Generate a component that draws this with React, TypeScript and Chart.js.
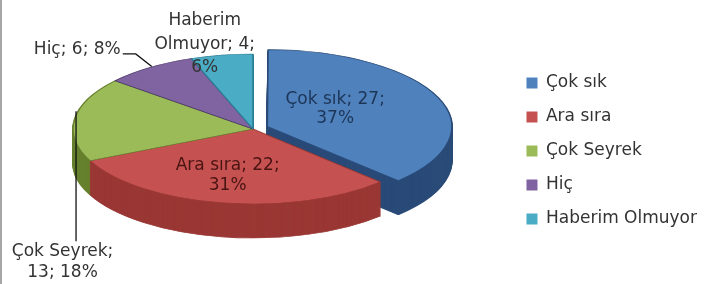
import React, { useEffect, useRef } from "react";
import { Chart, registerables } from "chart.js";

Chart.register(...registerables);

// ---- data ----
const categories = ["Çok sık", "Ara sıra", "Çok Seyrek", "Hiç", "Haberim Olmuyor"];
const counts = [27, 22, 13, 6, 4];
const percents = ["37%", "31%", "18%", "8%", "6%"];

// ---- styles ----
const topColors = ["#4f81bd", "#c55250", "#9bbb59", "#8064a2", "#4bacc6"];
const sideColors = ["#2a4b78", "#9a3835", "#66802e", "#4f3c6b", "#2c7f96"];
const labelInk = ["#1d3557", "#4a1413", "#333333", "#333333", "#333333"];

const W = 707;
const H = 284;
const ELL = { cx: 253, cy: 129, rx: 180, ry: 75, depth: 34 };
const FONT = '"DejaVu Sans", sans-serif';
const LABEL_SIZE = 17;

type Spec = {
  kind: "inside" | "down" | "left" | "above";
  r: number;
  dx: number;
  dy: number;
  lh: number;
  wrap: "A" | "B" | "C" | "D";
};
const labelSpecs: Spec[] = [
  { kind: "inside", r: 0.42, dx: -2, dy: -5, lh: 19, wrap: "A" },
  { kind: "inside", r: 0.65, dx: -5, dy: -1, lh: 20, wrap: "A" },
  { kind: "down", r: 1, dx: -12, dy: 132, lh: 21, wrap: "B" },
  { kind: "left", r: 1, dx: -29, dy: -18, lh: 20, wrap: "C" },
  { kind: "above", r: 1, dx: -17, dy: -11, lh: 23.5, wrap: "D" },
];

function buildLines(i: number, wrap: string): string[] {
  const c = categories[i];
  const v = counts[i];
  const p = percents[i];
  if (wrap === "A") return [`${c}; ${v};`, p];
  if (wrap === "B") return [`${c};`, `${v}; ${p}`];
  if (wrap === "C") return [`${c}; ${v}; ${p}`];
  const words = c.split(" ");
  return [words[0], `${words.slice(1).join(" ")}; ${v};`, p];
}

function ellipseMap(chart: any) {
  const arc = chart.getDatasetMeta(0).data[0];
  const R = arc.outerRadius;
  return { x0: arc.x, y0: arc.y, R, sx: ELL.rx / R, sy: ELL.ry / R };
}

function applyEllipse(ctx: CanvasRenderingContext2D, m: any) {
  ctx.translate(ELL.cx, ELL.cy);
  ctx.scale(m.sx, m.sy);
  ctx.translate(-m.x0, -m.y0);
}

function toScreen(m: any, arc: any, angle: number, r: number) {
  const half = (arc.startAngle + arc.endAngle) / 2;
  const off = (arc.options.offset || 0) / 4;
  const px = arc.x + Math.cos(half) * off + Math.cos(angle) * r;
  const py = arc.y + Math.sin(half) * off + Math.sin(angle) * r;
  return { x: ELL.cx + (px - m.x0) * m.sx, y: ELL.cy + (py - m.y0) * m.sy };
}

const pie3d = {
  id: "pie3d",
  beforeDatasetsDraw(chart: any) {
    const ctx: CanvasRenderingContext2D = chart.ctx;
    const m = ellipseMap(chart);
    const arcs = chart.getDatasetMeta(0).data;
    for (let d = ELL.depth; d >= 1; d--) {
      ctx.save();
      ctx.translate(0, d);
      applyEllipse(ctx, m);
      arcs.forEach((arc: any, i: number) => {
        const orig = arc.options;
        arc.options = { ...orig, backgroundColor: sideColors[i], borderColor: sideColors[i] };
        arc.draw(ctx);
        arc.options = orig;
      });
      ctx.restore();
    }
    ctx.save();
    applyEllipse(ctx, m);
  },
  afterDatasetsDraw(chart: any) {
    chart.ctx.restore();
  },
};

const sliceLabels = {
  id: "sliceLabels",
  afterDraw(chart: any) {
    const ctx: CanvasRenderingContext2D = chart.ctx;
    const m = ellipseMap(chart);
    const arcs = chart.getDatasetMeta(0).data;
    ctx.save();
    ctx.font = `${LABEL_SIZE}px ${FONT}`;
    ctx.textBaseline = "middle";
    arcs.forEach((arc: any, i: number) => {
      const spec = labelSpecs[i];
      const mid = (arc.startAngle + arc.endAngle) / 2;
      const a = toScreen(m, arc, mid, arc.outerRadius * spec.r);
      const lines = buildLines(i, spec.wrap);
      ctx.fillStyle = labelInk[i];
      ctx.strokeStyle = "#111";
      ctx.lineWidth = 1.3;
      if (spec.kind === "inside" || spec.kind === "above") {
        ctx.textAlign = "center";
        const cx = a.x + spec.dx;
        const cy = a.y + spec.dy;
        const top = cy - ((lines.length - 1) * spec.lh) / 2;
        lines.forEach((t, k) => ctx.fillText(t, cx, top + k * spec.lh));
      } else if (spec.kind === "down") {
        const lx = a.x + 1.5;
        ctx.beginPath();
        ctx.moveTo(lx, a.y - 8);
        ctx.lineTo(lx, a.y + 122);
        ctx.stroke();
        ctx.textAlign = "center";
        lines.forEach((t, k) => ctx.fillText(t, a.x + spec.dx, a.y + spec.dy + k * spec.lh));
      } else {
        const ex = a.x - 14;
        const ey = a.y - 13.6;
        ctx.beginPath();
        ctx.moveTo(a.x + 2, a.y - 1);
        ctx.lineTo(ex, ey);
        ctx.lineTo(ex - 13, ey);
        ctx.stroke();
        ctx.textAlign = "right";
        ctx.fillText(lines[0], a.x + spec.dx, a.y + spec.dy);
      }
    });
    // left frame edge
    ctx.fillStyle = "#a6a6a6";
    ctx.fillRect(0, 0, 2, H);
    ctx.restore();
  },
};

export default function App() {
  const ref = useRef<HTMLCanvasElement>(null);
  useEffect(() => {
    const canvas = ref.current as HTMLCanvasElement;
    const baseLabels = (Chart as any).overrides.pie.plugins.legend.labels.generateLabels;
    const chart = new Chart(canvas, {
      type: "pie",
      data: {
        labels: categories,
        datasets: [
          {
            data: counts,
            backgroundColor: topColors,
            borderColor: sideColors,
            borderWidth: 1,
            offset: [39, 0, 0, 0, 0],
            hoverOffset: 0,
            clip: false,
          } as any,
        ],
      },
      options: {
        responsive: false,
        maintainAspectRatio: false,
        animation: false,
        events: [],
        layout: { padding: { top: 18 } },
        plugins: {
          legend: {
            position: "right",
            align: "center",
            labels: {
              boxWidth: 11,
              boxHeight: 11,
              padding: 17,
              color: "#333333",
              font: { family: FONT, size: LABEL_SIZE },
              generateLabels: (c: any) =>
                baseLabels(c).map((l: any) => ({ ...l, lineWidth: 0, strokeStyle: l.fillStyle })),
            },
          },
          tooltip: { enabled: false },
          title: { display: false },
        },
      } as any,
      plugins: [pie3d, sliceLabels],
    });
    return () => chart.destroy();
  }, []);
  return (
    <div style={{ position: "fixed", left: 0, top: 0, width: W, height: H, background: "#ffffff" }}>
      <canvas ref={ref} width={W} height={H} style={{ display: "block", width: W, height: H }} />
    </div>
  );
}
